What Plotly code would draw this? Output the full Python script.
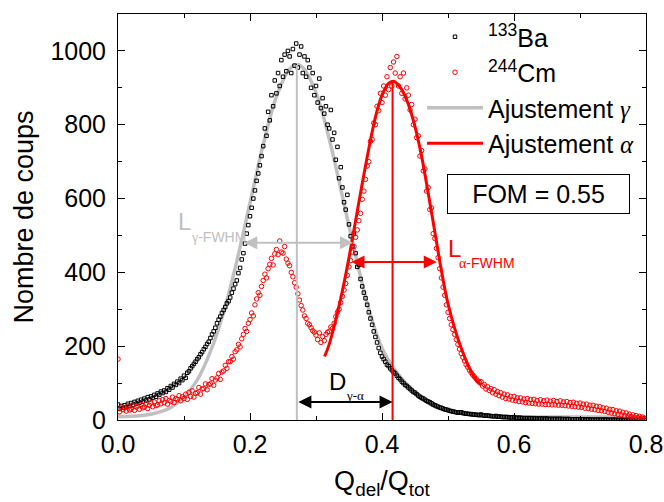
import plotly.graph_objects as go

# ---------------- data ----------------
bin_width = 0.0025  # Q_del/Q_tot bin spacing

ba_counts = [
    42, 30, 38, 33, 40, 35, 44, 38, 46, 41, 49, 44, 52, 47, 55, 50, 58, 53, 62, 56,
    64, 60, 68, 63, 72, 68, 77, 73, 80, 76, 86, 82, 92, 88, 98, 95, 104, 100, 112, 108,
    120, 114, 128, 132, 140, 146, 152, 158, 165, 170, 178, 184, 192, 198, 206, 212,
    222, 232, 240, 250, 262, 272, 280, 290, 298, 306, 316, 322, 332, 345, 356, 368,
    378, 398, 412, 435, 452, 478, 505, 528, 552, 575, 600, 622, 648, 668, 690, 715,
    742, 790, 770, 835, 812, 880, 850, 920, 885, 940, 905, 975, 930, 990, 945, 1000,
    985, 940, 1005, 960, 1020, 955, 990, 1012, 940, 985, 930, 975, 955, 900, 940, 880,
    905, 860, 925, 845, 872, 830, 850, 800, 790, 840, 760, 778, 705, 740, 655, 685,
    630, 590, 570, 610, 530, 498, 470, 505, 452, 415, 420, 382, 362, 345, 330, 312,
    292, 275, 258, 240, 225, 210, 195, 182, 172, 165, 158, 150, 146, 140, 135, 130,
    126, 120, 114, 110, 104, 100, 95, 92, 88, 84, 80, 76, 74, 70, 66, 63,
    60, 58, 55, 52, 50, 48, 45, 42, 40, 38, 36, 34, 33, 31, 29, 28,
    27, 25, 24, 23, 22, 21, 20, 20, 21, 19, 18, 17, 17, 16, 16, 15,
    15, 14, 14, 13, 15, 13, 12, 12, 12, 11, 11, 10, 10, 11, 9, 9,
    9, 8, 8, 8, 8, 7, 7, 7, 8, 6, 6, 6, 6, 5, 5, 5,
    5, 5, 5, 4, 5, 4, 4, 4, 4, 4, 3, 4, 4, 3, 3, 3,
    3, 3, 3, 3, 3, 3, 2, 3, 2, 3, 2, 2, 2, 2, 2, 2,
    2, 2, 2, 1, 1, 2, 1, 1, 1, 1, 1, 1, 1, 1, 1, 1,
    1, 1, 0, 1, 1, 0, 1, 0, 0, 1, 0, 0, 0, 0, 1, 0,
    0, 0, 0, 0, 0, 0, 0, 0, 0,
]

cm_counts = [
    165, 22, 35, 28, 33, 24, 38, 27, 30, 40, 26, 35, 38, 29, 42, 33, 35, 44, 31, 40,
    46, 36, 49, 39, 41, 52, 44, 55, 47, 58, 43, 53, 50, 62, 47, 58, 55, 66, 52, 63,
    58, 70, 56, 75, 64, 79, 62, 72, 74, 88, 70, 84, 85, 98, 82, 96, 98, 112, 94, 108,
    114, 126, 110, 130, 133, 148, 140, 158, 158, 172, 165, 185, 190, 205, 198, 220,
    232, 248, 240, 262, 272, 290, 282, 312, 328, 345, 338, 362, 378, 395, 385, 410,
    422, 438, 420, 450, 462, 448, 485, 455, 452, 470, 436, 425, 418, 400, 388, 372,
    360, 342, 325, 310, 298, 282, 275, 262, 258, 250, 242, 238, 230, 218, 236, 210,
    226, 215, 232, 238, 240, 252, 248, 262, 280, 292, 300, 318, 335, 352, 370, 392,
    415, 432, 455, 470, 495, 515, 540, 560, 598, 620, 652, 688, 700, 755, 760, 805,
    800, 850, 838, 885, 860, 905, 880, 930, 895, 955, 905, 970, 940, 985, 905, 930,
    885, 940, 870, 900, 880, 840, 855, 800, 815, 765, 770, 715, 730, 675, 680, 620,
    630, 570, 575, 505, 492, 465, 440, 410, 385, 360, 338, 312, 292, 275, 258, 245,
    232, 218, 205, 192, 180, 170, 160, 150, 143, 135, 128, 122, 117, 112, 106, 102,
    104, 92, 96, 84, 90, 80, 85, 74, 82, 70, 77, 66, 74, 62, 70, 58, 68, 57, 64, 54,
    64, 52, 60, 50, 60, 49, 57, 47, 58, 46, 55, 45, 56, 44, 53, 43, 55, 43, 52, 42,
    54, 42, 51, 41, 53, 41, 50, 40, 52, 40, 49, 39, 50, 38, 47, 37, 48, 36, 45, 35,
    46, 34, 43, 32, 43, 31, 40, 29, 40, 28, 37, 26, 36, 25, 33, 23, 32, 21, 29, 19,
    28, 17, 25, 15, 24, 14, 21, 12, 19, 11, 16, 9, 14, 8, 12, 6, 10, 5, 8, 4,
    4,
]

gamma_fit_x = [0.00, 0.02, 0.04, 0.06, 0.08, 0.10, 0.12, 0.14, 0.16, 0.18, 0.20, 0.22,
               0.24, 0.26, 0.271, 0.28, 0.30, 0.32, 0.34, 0.36, 0.38, 0.40, 0.42, 0.44,
               0.46, 0.48, 0.50, 0.55, 0.60, 0.65, 0.70, 0.75, 0.80]
gamma_fit_y = [9, 10, 13, 20, 34, 62, 108, 185, 292, 430, 588, 746,
               876, 951, 963, 955, 887, 762, 606, 446, 300, 195, 135, 92,
               58, 36, 24, 12, 9, 8, 8, 8, 8]

alpha_fit_x = [0.313, 0.32, 0.33, 0.34, 0.35, 0.36, 0.37, 0.38, 0.39, 0.40, 0.41, 0.417,
               0.42, 0.43, 0.44, 0.45, 0.46, 0.47, 0.48, 0.49, 0.50, 0.52, 0.54, 0.55]
alpha_fit_y = [172, 205, 272, 350, 440, 540, 640, 735, 820, 880, 912, 918,
               916, 895, 855, 795, 715, 615, 510, 405, 315, 195, 115, 95]

# peak centroids, peak heights, half-maximum crossings
gamma_center, gamma_peak = 0.271, 962
alpha_center, alpha_peak = 0.416, 921
gamma_fwhm_left, gamma_fwhm_right, gamma_half = 0.189, 0.356, 480
alpha_fwhm_left, alpha_fwhm_right, alpha_half = 0.3515, 0.483, 428
d_level = 49
fom_text = "FOM = 0.55"

ba_x = [round(i * bin_width, 4) for i in range(len(ba_counts))]
cm_x = [round(i * bin_width, 4) for i in range(len(cm_counts))]

FONT = "Liberation Sans, Arial, sans-serif"
SERIF = "Liberation Serif, Times New Roman, serif"
GRAY = "#c0c0c0"
RED = "#ff0000"

fig = go.Figure()

fig.add_trace(go.Scatter(
    x=gamma_fit_x, y=gamma_fit_y, mode="lines", name=f"Ajustement <span style=\"font-family:{SERIF}\"><i>γ</i></span>",
    line=dict(color=GRAY, width=3.5, shape="spline", smoothing=1), legendrank=3))
fig.add_trace(go.Scatter(
    x=ba_x, y=ba_counts, mode="markers", name="<sup>133</sup>Ba",
    marker=dict(symbol="square-open", size=3.5, color="black", line=dict(width=1, color="black")),
    legendrank=1))
fig.add_trace(go.Scatter(
    x=cm_x, y=cm_counts, mode="markers", name="<sup>244</sup>Cm",
    marker=dict(symbol="circle-open", size=4.5, color=RED, line=dict(width=1, color=RED)),
    legendrank=2))
fig.add_trace(go.Scatter(
    x=alpha_fit_x, y=alpha_fit_y, mode="lines", name=f"Ajustement <span style=\"font-family:{SERIF}\"><i>α</i></span>",
    line=dict(color=RED, width=3, shape="spline", smoothing=1), legendrank=4))

# vertical centroid lines
fig.add_shape(type="line", x0=gamma_center, x1=gamma_center, y0=0, y1=gamma_peak,
              line=dict(color=GRAY, width=2), layer="above")
fig.add_shape(type="line", x0=alpha_center, x1=alpha_center, y0=0, y1=alpha_peak,
              line=dict(color=RED, width=2), layer="above")

def double_arrow(x0, x1, y, color):
    fig.add_annotation(x=x1, y=y, ax=x0, ay=y, xref="x", yref="y", axref="x", ayref="y",
                       text="", showarrow=True, arrowside="end+start",
                       arrowhead=2, startarrowhead=2, arrowsize=1.3, startarrowsize=1.3,
                       arrowwidth=2, arrowcolor=color, standoff=0, startstandoff=0)

double_arrow(gamma_fwhm_left, gamma_fwhm_right, gamma_half, GRAY)
double_arrow(alpha_fwhm_left, alpha_fwhm_right, alpha_half, RED)
double_arrow(gamma_center, alpha_center, d_level, "black")

def label(x, y, text, size, color, family=FONT):
    fig.add_annotation(x=x, y=y, xref="x", yref="y", text=text, showarrow=False,
                       xanchor="left", yanchor="middle",
                       font=dict(size=size, color=color, family=family), borderpad=0)

label(0.0894, 538, "L", 24, GRAY)
label(0.109, 497, f"<span style=\"font-family:{SERIF}\">γ</span>-FWHM", 14, GRAY)
label(0.4985, 465, "L", 24, RED)
label(0.515, 426, f"<span style=\"font-family:{SERIF}\">α</span>-FWHM", 14, RED)
label(0.318, 104, "D", 24, "black")
label(0.344, 67, "γ-α", 13, "black", SERIF)

fig.add_annotation(x=0.637, y=612, xref="x", yref="y", text=fom_text, showarrow=False,
                   width=181, height=38, bordercolor="black", borderwidth=1, borderpad=0,
                   bgcolor="white", font=dict(size=25, color="black", family=FONT))

axis_common = dict(showline=True, linecolor="black", linewidth=1, mirror="ticks",
                   ticks="inside", ticklen=7, tickwidth=1, tickcolor="black",
                   showgrid=False, zeroline=False, automargin=False,
                   tickfont=dict(size=25, color="black", family=FONT))

fig.update_xaxes(range=[0, 0.8], dtick=0.2, tick0=0, tickformat=".1f",
                 minor=dict(ticks="inside", ticklen=4, dtick=0.1, tickcolor="black", showgrid=False),
                 title=dict(text="Q<sub>del</sub>/Q<sub>tot</sub>", standoff=14,
                            font=dict(size=27, color="black", family=FONT)),
                 ticklabelstandoff=2, **axis_common)
fig.update_yaxes(range=[0, 1100], dtick=200, tick0=0,
                 minor=dict(ticks="inside", ticklen=4, dtick=100, tickcolor="black", showgrid=False),
                 title=dict(text="Nombre de coups", standoff=8,
                            font=dict(size=27, color="black", family=FONT)),
                 ticklabelstandoff=6, **axis_common)

fig.update_layout(
    width=664, height=502,
    margin=dict(l=118, r=18, t=14, b=82, autoexpand=False),
    plot_bgcolor="white", paper_bgcolor="white",
    font=dict(family=FONT, color="black"),
    legend=dict(x=0.5758, y=1.0, xanchor="left", yanchor="top", bgcolor="rgba(0,0,0,0)",
                font=dict(size=25, color="black", family=FONT), tracegroupgap=0,
                itemwidth=56, borderwidth=0),
)

fig.write_html("out.html", config={"displayModeBar": False},
               post_script="document.body.style.margin='0';document.body.style.padding='0';")
